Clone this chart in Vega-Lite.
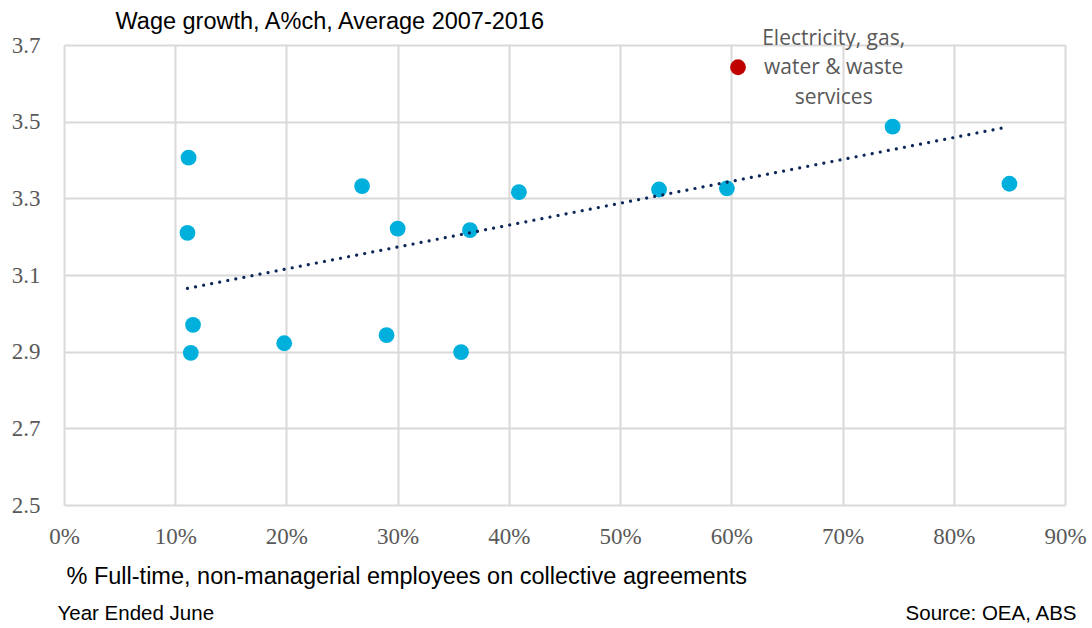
{
  "$schema": "https://vega.github.io/schema/vega-lite/v6.json",
  "width": 1001,
  "height": 460,
  "autosize": {"type": "none"},
  "padding": {"left": 64, "top": 45, "right": 27, "bottom": 123},
  "background": "white",
  "config": {
    "view": {"stroke": null},
    "axis": {"gridColor": "#d9d9d9", "gridWidth": 2, "domain": false, "ticks": false, "tickSize": 0}
  },
  "datasets": {
    "points": [
      {"pct": 11.2, "wage": 3.406, "group": "Industry"},
      {"pct": 11.1, "wage": 3.210, "group": "Industry"},
      {"pct": 11.6, "wage": 2.970, "group": "Industry"},
      {"pct": 11.4, "wage": 2.897, "group": "Industry"},
      {"pct": 19.8, "wage": 2.922, "group": "Industry"},
      {"pct": 26.8, "wage": 3.332, "group": "Industry"},
      {"pct": 29.0, "wage": 2.943, "group": "Industry"},
      {"pct": 30.0, "wage": 3.221, "group": "Industry"},
      {"pct": 35.7, "wage": 2.899, "group": "Industry"},
      {"pct": 36.5, "wage": 3.217, "group": "Industry"},
      {"pct": 40.9, "wage": 3.316, "group": "Industry"},
      {"pct": 53.5, "wage": 3.323, "group": "Industry"},
      {"pct": 59.6, "wage": 3.326, "group": "Industry"},
      {"pct": 74.5, "wage": 3.487, "group": "Industry"},
      {"pct": 85.0, "wage": 3.338, "group": "Industry"},
      {"pct": 60.6, "wage": 3.642, "group": "Electricity, gas, water & waste services"}
    ],
    "trend": [
      {"pct": 11.1, "wage": 3.065},
      {"pct": 84.8, "wage": 3.486}
    ],
    "notes": [
      {"pct": 69.2, "wage": 3.64, "label": "Electricity, gas,\nwater & waste\nservices"}
    ]
  },
  "resolve": {"axis": {"x": "independent", "y": "independent"}},
  "layer": [
    {
      "data": {"name": "points"},
      "mark": {"type": "circle", "size": 250, "opacity": 1},
      "encoding": {
        "x": {
          "field": "pct", "type": "quantitative",
          "scale": {"domain": [0, 90], "nice": false, "zero": false},
          "axis": {
            "values": [0, 10, 20, 30, 40, 50, 60, 70, 80, 90],
            "labelExpr": "datum.value + '%'",
            "labelFlush": false, "labelOverlap": false,
            "labelFont": "Liberation Serif", "labelFontSize": 23, "labelColor": "#595959",
            "labelPadding": 20,
            "title": "% Full-time, non-managerial employees on collective agreements",
            "titleFont": "Liberation Sans", "titleFontSize": 23.5, "titleFontWeight": "normal", "titleColor": "#000000",
            "titleAnchor": null, "titleAlign": "left", "titleBaseline": "alphabetic",
            "titleX": 2, "titleY": 78
          }
        },
        "y": {
          "field": "wage", "type": "quantitative",
          "scale": {"domain": [2.5, 3.7], "nice": false, "zero": false},
          "axis": {
            "values": [2.5, 2.7, 2.9, 3.1, 3.3, 3.5, 3.7],
            "format": ".1f",
            "labelFlush": false, "labelOverlap": false,
            "labelFont": "Liberation Serif", "labelFontSize": 23, "labelColor": "#595959",
            "labelPadding": 24,
            "title": "Wage growth, A%ch, Average 2007-2016",
            "titleFont": "Liberation Sans", "titleFontSize": 23.5, "titleFontWeight": "normal", "titleColor": "#000000",
            "titleAngle": 0, "titleAnchor": null, "titleAlign": "left", "titleBaseline": "alphabetic",
            "titleX": 51, "titleY": -17
          }
        },
        "color": {
          "field": "group", "type": "nominal",
          "scale": {"domain": ["Industry", "Electricity, gas, water & waste services"], "range": ["#00B0DC", "#C00000"]},
          "legend": null
        }
      }
    },
    {
      "data": {"name": "trend"},
      "mark": {"type": "line", "color": "#0D2758", "strokeWidth": 3.2, "strokeCap": "round", "strokeDash": [0.01, 8.2]},
      "encoding": {
        "x": {
          "field": "pct", "type": "quantitative",
          "axis": {
            "orient": "top", "labels": false, "grid": false,
            "title": "Year Ended June",
            "titleFont": "Liberation Sans", "titleFontSize": 20.5, "titleFontWeight": "normal", "titleColor": "#000000",
            "titleAnchor": null, "titleAlign": "left", "titleBaseline": "alphabetic",
            "titleX": -7, "titleY": 574
          }
        },
        "y": {
          "field": "wage", "type": "quantitative",
          "axis": {
            "orient": "right", "labels": false, "grid": false,
            "title": "Source: OEA, ABS",
            "titleFont": "Liberation Sans", "titleFontSize": 20.5, "titleFontWeight": "normal", "titleColor": "#000000",
            "titleAngle": 0, "titleAnchor": null, "titleAlign": "right", "titleBaseline": "alphabetic",
            "titleX": 11, "titleY": 574
          }
        }
      }
    },
    {
      "data": {"name": "notes"},
      "mark": {"type": "text", "font": "Open Sans", "fontSize": 21, "color": "#595959", "align": "center", "baseline": "middle", "lineBreak": "\n", "lineHeight": 29.5, "dy": -29.5},
      "encoding": {
        "x": {"field": "pct", "type": "quantitative", "axis": null},
        "y": {"field": "wage", "type": "quantitative", "axis": null},
        "text": {"field": "label"}
      }
    }
  ]
}
